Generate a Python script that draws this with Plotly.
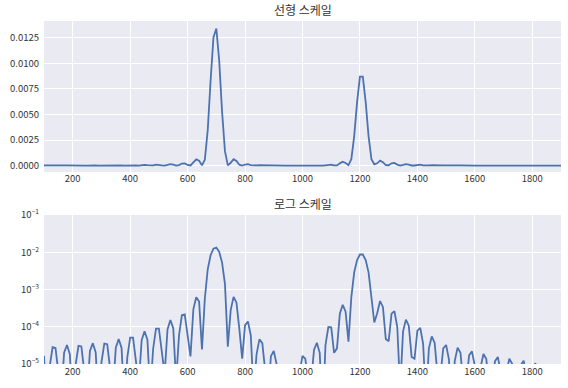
import plotly.graph_objects as go

# frequency axis (evenly spaced samples, 100 .. 1900)
freq = list(range(100, 1901, 10))

# power spectrum values
power = [
    1.66e-5, 5.8e-7, 8.7e-6, 2.82e-5, 2.69e-5, 6.9e-6, 1.35e-6, 2.0e-5, 3.24e-5, 1.82e-5,
    6.3e-7, 9.5e-6, 3.09e-5, 2.95e-5, 7.6e-6, 1.51e-6, 2.24e-5, 3.63e-5, 2.04e-5, 7.2e-7,
    1.10e-5, 3.55e-5, 3.39e-5, 8.9e-6, 1.82e-6, 2.75e-5, 4.68e-5, 2.69e-5, 9.8e-7, 1.51e-5,
    5.13e-5, 5.13e-5, 1.38e-5, 2.88e-6, 4.37e-5, 7.59e-5, 4.47e-5, 1.66e-6, 2.57e-5, 8.9e-5,
    8.9e-5, 2.51e-5, 5.4e-6, 8.5e-5, 1.51e-4, 9.1e-5, 3.5e-6, 5.75e-5, 2.04e-4, 2.14e-4,
    6.55e-5, 1.59e-5, 2.92e-4, 6.2e-4, 4.74e-4, 2.45e-5, 5.73e-4, 3.46e-3, 8.30e-3, 1.253e-2,
    1.340e-2, 1.025e-2, 5.27e-3, 1.415e-3, 2.93e-5, 2.79e-4, 6.36e-4, 4.50e-4, 8.9e-5, 1.4e-5,
    1.10e-4, 1.38e-4, 5.9e-5, 1.6e-6, 1.82e-5, 4.57e-5, 3.63e-5, 7.9e-6, 1.3e-6, 1.62e-5,
    2.24e-5, 9.8e-6, 2.7e-7, 3.0e-6, 7.6e-6, 5.4e-6, 1.2e-6, 2.0e-7, 1.0e-7, 5.9e-6,
    1.66e-5, 1.38e-5, 2.7e-6, 3.2e-6, 2.40e-5, 3.72e-5, 2.0e-5, 3.0e-7, 3.24e-5, 9.8e-5,
    9.6e-5, 2.0e-5, 2.63e-5, 2.24e-4, 3.89e-4, 2.54e-4, 4.0e-5, 6.28e-4, 2.89e-3, 6.20e-3,
    8.70e-3, 8.70e-3, 6.20e-3, 2.89e-3, 6.28e-4, 1.3e-4, 2.3e-4, 4.9e-4, 3.4e-4, 4.7e-5,
    4.1e-5, 2.24e-4, 2.63e-4, 9.8e-5, 2.0e-6, 7.4e-5, 1.55e-4, 1.07e-4, 1.55e-5, 1.38e-5,
    7.9e-5, 9.3e-5, 3.47e-5, 1.0e-6, 2.63e-5, 5.5e-5, 3.72e-5, 5.2e-6, 4.7e-6, 2.63e-5,
    3.24e-5, 1.32e-5, 3.0e-7, 1.2e-5, 2.75e-5, 2.0e-5, 2.95e-6, 2.8e-6, 1.7e-5, 2.19e-5,
    8.9e-6, 2.0e-7, 8.1e-6, 1.86e-5, 1.35e-5, 2.0e-6, 1.95e-6, 1.18e-5, 1.55e-5, 6.3e-6,
    1.5e-7, 6.0e-6, 1.38e-5, 1.02e-5, 1.55e-6, 1.5e-6, 9.3e-6, 1.23e-5, 5.0e-6, 1.0e-7,
    4.7e-6, 1.05e-5, 7.6e-6, 1.1e-6, 1.0e-6, 6.0e-6, 7.8e-6, 3.2e-6, 1.0e-7, 2.75e-6,
    6.2e-6,
]

titles = ["선형 스케일", "로그 스케일"]
x_ticks = [200, 400, 600, 800, 1000, 1200, 1400, 1600, 1800]
lin_ticks = [0.0, 0.0025, 0.0050, 0.0075, 0.0100, 0.0125]
log_ticks = [1e-5, 1e-4, 1e-3, 1e-2, 1e-1]
log_labels = ["10<sup>−5</sup>", "10<sup>−4</sup>", "10<sup>−3</sup>", "10<sup>−2</sup>", "10<sup>−1</sup>"]

LINE = "#4C72B0"
BG = "#EAEAF2"
TXT = "#333333"
FONT = "Noto Sans CJK KR"

fig = go.Figure()
fig.add_trace(go.Scatter(x=freq, y=power, mode="lines", xaxis="x", yaxis="y",
                         line=dict(color=LINE, width=1.8), showlegend=False))
fig.add_trace(go.Scatter(x=freq, y=power, mode="lines", xaxis="x2", yaxis="y2",
                         line=dict(color=LINE, width=1.8), showlegend=False))

axis_common = dict(showgrid=True, gridcolor="white", gridwidth=1, zeroline=False,
                   showline=False, ticks="", automargin=False,
                   tickfont=dict(size=9.5, color=TXT, family=FONT))

top_dom = [0.5598, 1.0]
bot_dom = [0.0, 0.4344]

fig.update_layout(
    width=568, height=388,
    margin=dict(l=44, r=7, t=21, b=24),
    paper_bgcolor="white", plot_bgcolor=BG,
    font=dict(family=FONT, color=TXT),
    xaxis=dict(domain=[0, 1], anchor="y", range=[100, 1900], tickvals=x_ticks, **axis_common),
    yaxis=dict(domain=top_dom, anchor="x", range=[-0.00062, 0.01413], tickvals=lin_ticks,
               tickformat=".4f", ticklabelstandoff=4, **axis_common),
    xaxis2=dict(domain=[0, 1], anchor="y2", range=[100, 1900], tickvals=x_ticks, **axis_common),
    yaxis2=dict(domain=bot_dom, anchor="x2", type="log", range=[-5, -1], tickvals=log_ticks,
                ticktext=log_labels, ticklabelstandoff=4, **axis_common),
    annotations=[
        dict(text=titles[0], x=0.5, y=top_dom[1], xref="paper", yref="paper",
             xanchor="center", yanchor="bottom", yshift=1, showarrow=False,
             font=dict(size=12, color=TXT, family=FONT)),
        dict(text=titles[1], x=0.5, y=bot_dom[1], xref="paper", yref="paper",
             xanchor="center", yanchor="bottom", yshift=1, showarrow=False,
             font=dict(size=12, color=TXT, family=FONT)),
    ],
)

# remove the browser's default page margin so the figure fills the window exactly
fig.write_html("out.html",
               config={"displayModeBar": False},
               post_script="document.body.style.margin='0';document.body.style.overflow='hidden';")
